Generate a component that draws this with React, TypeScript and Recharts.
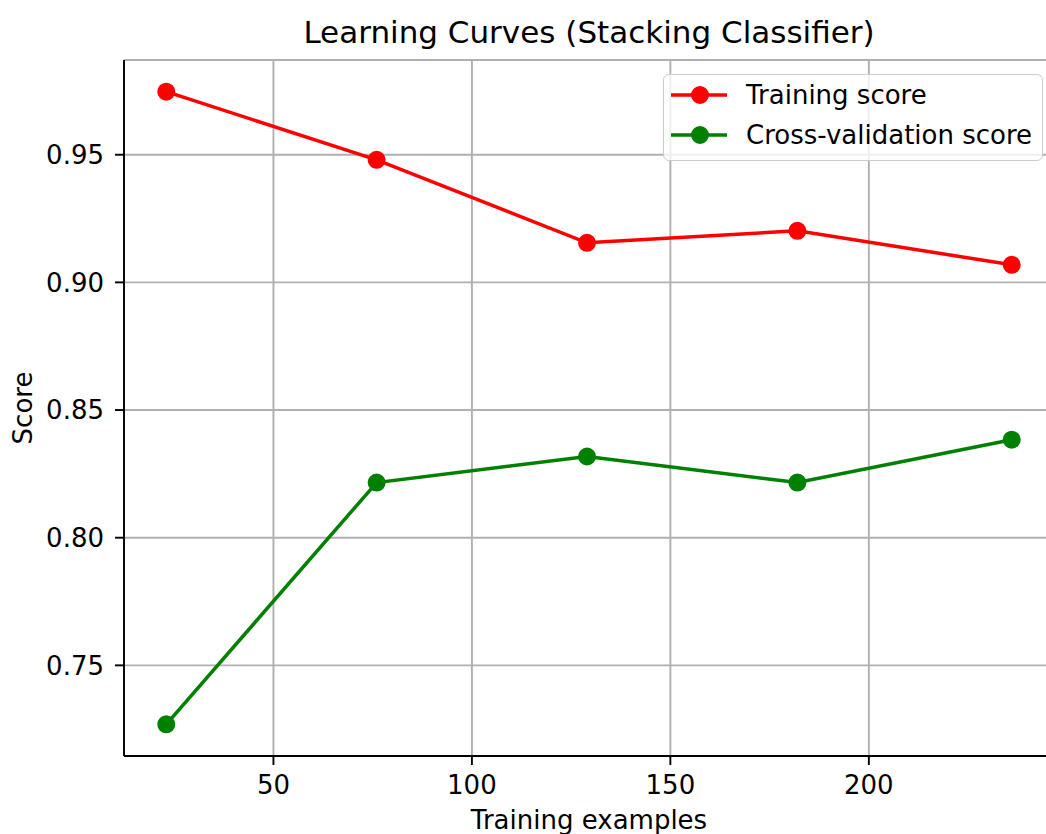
import { LineChart, Line, XAxis, YAxis, CartesianGrid, Legend } from "recharts";

const trainSizes = [23, 76, 129, 182, 236];
const trainScores = [0.9747, 0.948, 0.9155, 0.9202, 0.9069];
const cvScores = [0.7269, 0.8216, 0.8318, 0.8216, 0.8384];

const xTicks = [50, 100, 150, 200];
const yTicks = [0.75, 0.8, 0.85, 0.9, 0.95];

const seriesNames = ["Training score", "Cross-validation score"];
const seriesColors = ["#ff0000", "#008000"];
const title = "Learning Curves (Stacking Classifier)";

const data = trainSizes.map((size, i) => ({
  size,
  train: trainScores[i],
  cv: cvScores[i],
}));

const FONT = "'DejaVu Sans', sans-serif";

function LegendBox() {
  return (
    <div
      style={{
        boxSizing: "border-box",
        width: 380,
        height: 87,
        border: "1.9px solid #cccccc",
        borderRadius: 6,
        background: "rgba(255,255,255,0.8)",
        fontFamily: FONT,
        fontSize: 26,
        color: "#000",
      }}
    >
      {seriesNames.map((name, i) => (
        <div
          key={name}
          style={{ display: "flex", alignItems: "center", height: 40 }}
        >
          <svg width={75} height={40} style={{ flex: "none" }}>
            <line
              x1={7}
              x2={63}
              y1={20}
              y2={20}
              stroke={seriesColors[i]}
              strokeWidth={3.5}
            />
            <circle cx={36} cy={20} r={8} fill={seriesColors[i]} stroke={seriesColors[i]} strokeWidth={2} />
          </svg>
          <span style={{ marginLeft: 7, whiteSpace: "nowrap" }}>{name}</span>
        </div>
      ))}
    </div>
  );
}

export default function App() {
  return (
    <div
      style={{
        position: "absolute",
        left: 0,
        top: 0,
        width: 1046,
        height: 834,
        overflow: "hidden",
        background: "#fff",
        fontFamily: FONT,
      }}
    >
      <svg
        width={1046}
        height={60}
        style={{ position: "absolute", left: 0, top: 0 }}
      >
        <text x={589} y={43} textAnchor="middle" fontSize={31} fill="#000">
          {title}
        </text>
      </svg>
      <LineChart
        width={1070}
        height={834}
        data={data}
        margin={{ top: 60, right: 16, bottom: 0, left: 0 }}
      >
        <CartesianGrid stroke="#b0b0b0" strokeWidth={1.9} />
        <XAxis
          dataKey="size"
          type="number"
          domain={[12.35, 246.65]}
          ticks={xTicks}
          allowDataOverflow
          height={78}
          tickSize={9}
          tickMargin={11}
          tick={{ fill: "#000", fontSize: 26 }}
          tickLine={{ stroke: "#000", strokeWidth: 1.9 }}
          axisLine={{ stroke: "#000", strokeWidth: 1.9 }}
          label={{
            value: "Training examples",
            position: "insideBottom",
            offset: 5,
            fill: "#000",
            fontSize: 26,
          }}
        />
        <XAxis
          xAxisId="top"
          orientation="top"
          type="number"
          domain={[12.35, 246.65]}
          height={0}
          tick={false}
          tickLine={false}
          axisLine={{ stroke: "#000", strokeWidth: 1.9 }}
        />
        <YAxis
          type="number"
          domain={[0.7145, 0.9871]}
          ticks={yTicks}
          allowDataOverflow
          width={124}
          tickSize={9}
          tickMargin={11}
          tickFormatter={(v: number) => v.toFixed(2)}
          tick={{ fill: "#000", fontSize: 26 }}
          tickLine={{ stroke: "#000", strokeWidth: 1.9 }}
          axisLine={{ stroke: "#000", strokeWidth: 1.9 }}
          label={{
            value: "Score",
            angle: -90,
            position: "insideLeft",
            offset: 23,
            fill: "#000",
            fontSize: 26,
            style: { textAnchor: "middle" },
          }}
        />
        <Legend
          layout="horizontal"
          verticalAlign="middle"
          align="center"
          content={() => <LegendBox />}
          wrapperStyle={{ left: 663, top: 74, width: 380, height: 87 }}
        />
        <Line
          dataKey="train"
          name={seriesNames[0]}
          stroke={seriesColors[0]}
          strokeWidth={3.5}
          dot={{ r: 8, fill: seriesColors[0], stroke: seriesColors[0], strokeWidth: 2 }}
          activeDot={false}
          isAnimationActive={false}
        />
        <Line
          dataKey="cv"
          name={seriesNames[1]}
          stroke={seriesColors[1]}
          strokeWidth={3.5}
          dot={{ r: 8, fill: seriesColors[1], stroke: seriesColors[1], strokeWidth: 2 }}
          activeDot={false}
          isAnimationActive={false}
        />
      </LineChart>
    </div>
  );
}
